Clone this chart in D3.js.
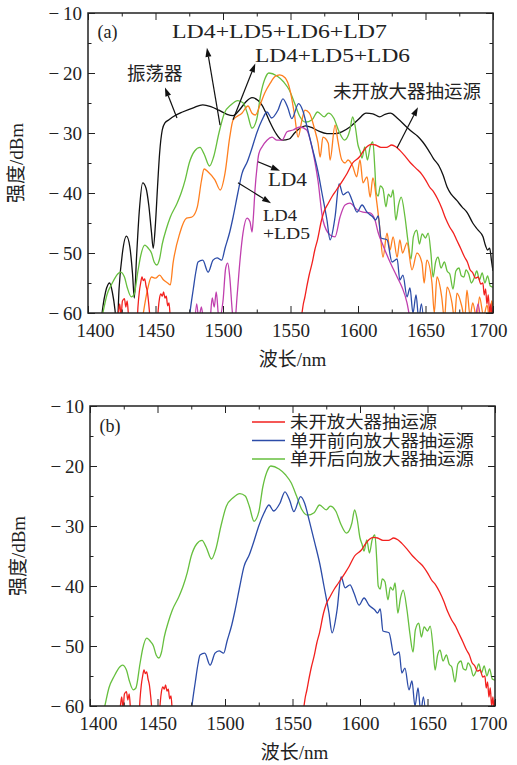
<!DOCTYPE html>
<html><head><meta charset="utf-8">
<script src="https://cdn.jsdelivr.net/npm/d3@7"></script>
<style>body{margin:0;background:#fff}svg{display:block}</style>
</head><body>
<svg id="c" width="517" height="765"></svg>
<script>
// ---------------- data ----------------
const xTicks = [1400,1450,1500,1550,1600,1650,1700];
const xMinor = [1425,1475,1525,1575,1625,1675];
const yTicks = [-60,-50,-40,-30,-20,-10];
const yMinor = [-55,-45,-35,-25,-15];

// 振荡器 (black)
const oscillator = [[1409,-63],[1411,-59],[1413,-56.5],[1416,-55],[1418,-56.5],[1420,-59.5],[1421.5,-63],[1423,-56],[1425.5,-50],[1428.5,-47.2],[1431,-49],[1433,-53.5],[1434.3,-57.5],[1436,-50.5],[1438,-43],[1440.5,-38.3],[1443,-39.2],[1445,-42],[1447,-46.5],[1448.3,-49.2],[1450,-45],[1451.5,-39],[1453,-33.5],[1455,-29.5],[1457,-28.3],[1460,-27.8],[1463,-27.3],[1470,-26.5],[1478,-25.8],[1485,-25.3],[1491,-25.6],[1497,-26.2],[1503,-26.9],[1507.5,-27.1],[1512,-26.2],[1517,-24.8],[1521.5,-24.1],[1526,-24.6],[1529,-25.4],[1531.5,-26.5],[1535,-28.3],[1539,-30],[1544,-31.2],[1549,-31],[1553,-30],[1557,-29.2],[1561,-28.8],[1566,-29.1],[1571,-29.7],[1577,-30.1],[1583,-30.1],[1588,-29.8],[1594,-29],[1600,-27.8],[1606,-26.7],[1611,-26.8],[1616,-27.3],[1620,-26.9],[1624,-26.7],[1629,-27.5],[1636,-29],[1640,-29.8],[1644,-30.5],[1648,-31.5],[1652,-32.8],[1656,-34.3],[1660,-35.5],[1663,-37],[1666,-39],[1669,-40.2],[1673,-41.2],[1677,-42.3],[1681,-43.3],[1685,-45],[1689,-46.2],[1692.6,-47.3],[1694.5,-48.8],[1696,-49.5],[1697.5,-49.2],[1699,-51.5],[1700,-53]];

// 未开放大器抽运源 (red)
const noPump = [[1421,-63],[1422.5,-60],[1423.5,-58.5],[1424.5,-60.5],[1425.5,-58],[1427,-57.6],[1428,-59],[1429,-58],[1430,-60.5],[1431,-63],[1436,-63],[1437,-59],[1438,-56.5],[1439,-55],[1440,-54],[1441,-54.6],[1442,-54.3],[1443,-55.5],[1444,-56.5],[1445,-58.5],[1446,-61],[1447,-63],[1451,-63],[1452,-59.5],[1453,-57.5],[1454,-56.8],[1455,-57.2],[1456,-56.5],[1457,-57.5],[1458,-57.2],[1459,-58.8],[1460,-58.3],[1461,-61],[1462,-63],[1556,-63],[1558.5,-60],[1559.5,-58.5],[1560.5,-57.5],[1562,-55.7],[1564,-53.5],[1566,-51.7],[1568,-49.5],[1570,-47.8],[1573,-44.5],[1575,-43],[1578,-41.7],[1581,-40.5],[1584,-39.5],[1589,-37.8],[1592,-36.7],[1596,-35],[1601,-34],[1604,-33],[1607,-32.2],[1610,-31.9],[1613,-32],[1617,-32.4],[1621,-32.4],[1625,-32],[1628,-32.3],[1631,-32.9],[1635,-33.9],[1639,-35],[1643,-35.9],[1647,-36.8],[1650,-37.8],[1653,-39],[1656,-39.8],[1659,-41],[1662,-42.5],[1665,-44.3],[1668,-45.7],[1671,-46.8],[1673,-47.8],[1676,-49.2],[1679,-50.7],[1681,-51.5],[1683,-52.8],[1685,-53.3],[1687,-54.2],[1689,-54],[1691,-55.2],[1692.5,-55],[1693.5,-57],[1694.5,-56],[1695.5,-58.5],[1696.5,-57],[1697.5,-60],[1698.5,-58.5],[1699.3,-61],[1700,-59]];

// LD4+LD5+LD6+LD7 / 单开后向 (green)
const ld4567 = [[1408,-63],[1411,-60],[1414,-57],[1418,-55],[1422,-53.5],[1424,-53.2],[1427,-54],[1429,-55.7],[1432,-57.3],[1434,-57],[1437,-53],[1439,-50.5],[1442,-48.7],[1445,-49.3],[1447,-50],[1449,-51.5],[1451,-52],[1453,-51],[1455,-48.5],[1458,-46],[1461,-44],[1466,-41.7],[1469,-40],[1472,-37.8],[1475,-35],[1479,-33],[1483,-32.4],[1486,-33.5],[1490,-35.5],[1493,-34],[1497,-30],[1501,-26.7],[1506,-25.3],[1511,-24.6],[1515,-25],[1518,-26.7],[1521.5,-29.2],[1525,-27.7],[1528,-23.5],[1531,-21],[1534,-20],[1540,-20.5],[1545,-21.5],[1549,-22.8],[1553,-25],[1557,-27.3],[1561,-28.2],[1566,-27.8],[1570,-26.5],[1575,-27.3],[1578,-26.7],[1582,-27.5],[1586,-29.8],[1590,-31.2],[1594,-29.5],[1596,-27.3],[1598,-29],[1600,-32],[1601.5,-33],[1603,-34.2],[1605,-32.3],[1607,-34.5],[1609,-32.3],[1611,-31.5],[1612.5,-36],[1613.5,-40],[1615,-40.5],[1616.5,-38.8],[1618.5,-39.3],[1620.7,-42.3],[1622.5,-40.2],[1624.4,-40.7],[1626,-39.5],[1628,-44.5],[1630,-42],[1632,-40.7],[1634.8,-44],[1637,-48],[1639.3,-51],[1641,-47.3],[1643.5,-46.2],[1645.5,-48.5],[1647.5,-46.8],[1650,-47.5],[1652,-46.7],[1654,-50],[1655.6,-54],[1657.5,-51.5],[1659.3,-50.7],[1661.5,-52.5],[1664,-51.5],[1666,-53],[1668,-53.5],[1670.4,-56],[1672.5,-53],[1674.8,-52.5],[1676.5,-53.8],[1678.5,-54],[1680,-52.8],[1682,-53.5],[1684,-55],[1686,-54.2],[1688,-53],[1690,-54.5],[1692,-53.3],[1694,-55],[1696,-53.8],[1698,-55.5],[1700,-55.7]];

// LD4+LD5+LD6 (orange)
const ld456 = [[1439,-63],[1441,-60],[1444,-56.2],[1447,-54],[1450,-54.2],[1453,-53.7],[1456,-54.5],[1459,-55],[1461,-55.3],[1463,-51.7],[1468,-46.7],[1473,-44.2],[1477,-44],[1481,-42.3],[1484,-38],[1486,-36],[1489,-36.5],[1494,-37.8],[1498,-39.5],[1501.5,-36.7],[1505,-30.7],[1507.5,-27.8],[1514,-26.7],[1518.5,-25.5],[1521.5,-26.7],[1524,-27],[1527.5,-25.3],[1531,-23.3],[1535,-21.7],[1538.5,-20.6],[1542,-20.3],[1546,-20.8],[1549.6,-22.8],[1553,-27],[1555.6,-30.7],[1558.5,-27.8],[1560.7,-26.2],[1564,-26.7],[1568,-29.5],[1570.4,-31.7],[1572,-34],[1574,-30.7],[1578,-31.7],[1579.3,-34.5],[1583,-28.7],[1585,-31.2],[1588,-34.5],[1590.4,-35],[1592.6,-34.5],[1596,-35.5],[1599,-37.3],[1601.5,-34.5],[1603.7,-38.3],[1606.7,-37.3],[1609,-40.7],[1611,-37.5],[1614,-41.7],[1616.3,-46.2],[1618.5,-50.7],[1621.5,-46.7],[1623.7,-49.5],[1626,-47.3],[1629,-50.7],[1631,-47.8],[1633,-50],[1636.3,-48.3],[1640,-52.8],[1643.7,-50],[1647.4,-51.7],[1649,-55],[1651,-51.2],[1654.8,-55],[1656.5,-60],[1658.5,-54],[1662,-57.3],[1664,-61],[1666,-55.7],[1669.6,-58.3],[1671.5,-61],[1673.3,-56.7],[1677,-59],[1679,-61],[1680.7,-56.2],[1683,-60.5],[1685,-58.3],[1688,-61],[1690,-57.3],[1693,-60.5],[1695.6,-58.7],[1697.5,-61],[1699,-58],[1700,-59]];

// LD4 / 单开前向 (blue)
const ld4 = [[1474,-63],[1475.5,-60],[1478,-56],[1480,-53],[1481.5,-51.5],[1485,-51.2],[1489,-53.2],[1492.6,-51.2],[1495.6,-50.8],[1499,-51.2],[1501.5,-49.2],[1505,-46.5],[1507.5,-44],[1511,-40],[1514,-36.8],[1518,-34.8],[1521.5,-32.5],[1525,-30],[1529,-27.8],[1532.6,-26.5],[1536,-27.5],[1540.7,-26.2],[1544.4,-24.3],[1548,-25.8],[1551,-27.6],[1556,-25.1],[1559,-26.2],[1562.5,-29.2],[1566.5,-32.8],[1570.4,-36.5],[1573.3,-40],[1577,-44.5],[1579.3,-47.8],[1583,-44],[1586,-38.5],[1589,-40.3],[1592.6,-39.8],[1595.6,-41.2],[1599.3,-43.2],[1603,-42],[1606.7,-43.2],[1611,-44],[1613,-44.5],[1615,-43.8],[1617,-47.5],[1621.5,-47.8],[1625.2,-51.5],[1629,-51],[1631,-54.5],[1633.3,-53.7],[1636.3,-57.3],[1638.5,-55.8],[1640.7,-60],[1643,-57],[1645,-61],[1647,-58.5],[1649,-63]];

// LD4+LD5 (magenta)
const ld45 = [[1479,-62],[1480.5,-58.5],[1482,-61],[1484,-59],[1486,-62],[1490,-62],[1492,-57.5],[1493.5,-59],[1495,-56.5],[1497,-61],[1500,-58],[1502,-52.5],[1503.5,-51.7],[1505,-54],[1507,-60],[1508.5,-62],[1510.5,-57],[1512.6,-51.2],[1514.8,-46.7],[1517.8,-44.2],[1520,-44.8],[1521.5,-46.5],[1522.5,-44],[1523.7,-39.5],[1525.2,-35.7],[1526.5,-33.5],[1529,-32.3],[1532.6,-31.2],[1536.3,-30.7],[1540,-31.2],[1543.7,-31.2],[1547.4,-29.8],[1551.9,-29.5],[1557,-29],[1562,-29.5],[1566,-32.5],[1570.4,-38],[1574,-44.5],[1579.3,-47],[1583,-47.3],[1586.7,-44],[1590.4,-42],[1594,-41.7],[1599.3,-42.8],[1603.7,-43.2],[1608.9,-43.3],[1612.6,-44.5],[1614.8,-46.5],[1618.5,-48.7],[1623.7,-51.5],[1629,-54],[1632.6,-55.7],[1636.3,-58.3],[1638.5,-61],[1640,-63],[1686,-62],[1689,-58.5],[1691,-62]];

const colors = {black:"#111", red:"#f2201e", green:"#66bf3e", orange:"#ff7f1f", blue:"#2c4ca8", magenta:"#c03fae"};

// ---------------- drawing ----------------
const svg = d3.select("#c");
const SERIF = "'Liberation Serif','Noto Sans CJK SC',serif";
const TXT = "#222";

function drawPanel(p){
  const x = d3.scaleLinear().domain([1400,1700]).range([p.x0,p.x1]);
  const y = d3.scaleLinear().domain([-60,-10]).range([p.y1,p.y0]);
  const clipId = "clip" + p.id;
  svg.append("clipPath").attr("id",clipId).append("rect")
    .attr("x",p.x0).attr("y",p.y0).attr("width",p.x1-p.x0).attr("height",p.y1-p.y0);
  const line = d3.line().x(d=>x(d[0])).y(d=>y(d[1])).curve(d3.curveMonotoneX);
  const gl = svg.append("g").attr("clip-path",`url(#${clipId})`);
  p.series.forEach(s=>{
    gl.append("path").attr("d",line(s.data)).attr("fill","none")
      .attr("stroke",s.color).attr("stroke-width",1.3).attr("stroke-linejoin","round");
  });

  const fmtY = d => "\u2212\u2009" + Math.abs(d);
  const fmtX = d3.format("d");
  const styleAxis = g => { g.select(".domain").remove();
    g.attr("font-family",SERIF).attr("font-size",19);
    g.selectAll(".tick line").attr("stroke","#222").attr("stroke-width",1);
    g.selectAll(".tick text").attr("fill",TXT); };

  const bottom = svg.append("g").attr("transform",`translate(0,${p.y1})`)
    .call(d3.axisBottom(x).tickValues(xTicks).tickFormat(fmtX).tickSizeInner(-7).tickSizeOuter(0).tickPadding(10.5)).call(styleAxis);
  bottom.selectAll(".tick text").filter(d=>d===1400).attr("dx",p.dxL);
  bottom.selectAll(".tick text").filter(d=>d===1700).attr("dx",p.dxR);
  svg.append("g").attr("transform",`translate(0,${p.y1})`)
    .call(d3.axisBottom(x).tickValues(xMinor).tickSizeInner(-3.5).tickSizeOuter(0).tickFormat("")).call(styleAxis);
  svg.append("g").attr("transform",`translate(0,${p.y0})`)
    .call(d3.axisTop(x).tickValues(xTicks).tickSizeInner(-7).tickSizeOuter(0).tickFormat("")).call(styleAxis);
  svg.append("g").attr("transform",`translate(0,${p.y0})`)
    .call(d3.axisTop(x).tickValues(xMinor).tickSizeInner(-3.5).tickSizeOuter(0).tickFormat("")).call(styleAxis);
  svg.append("g").attr("transform",`translate(${p.x0},0)`)
    .call(d3.axisLeft(y).tickValues(yTicks).tickSizeInner(-7).tickSizeOuter(0).tickPadding(6).tickFormat(fmtY)).call(styleAxis);
  svg.append("g").attr("transform",`translate(${p.x0},0)`)
    .call(d3.axisLeft(y).tickValues(yMinor).tickSizeInner(-3.5).tickSizeOuter(0).tickFormat("")).call(styleAxis);
  svg.append("g").attr("transform",`translate(${p.x1},0)`)
    .call(d3.axisRight(y).tickValues(yTicks).tickSizeInner(-7).tickSizeOuter(0).tickFormat("")).call(styleAxis);
  svg.append("g").attr("transform",`translate(${p.x1},0)`)
    .call(d3.axisRight(y).tickValues(yMinor).tickSizeInner(-3.5).tickSizeOuter(0).tickFormat("")).call(styleAxis);

  svg.append("rect").attr("x",p.x0).attr("y",p.y0).attr("width",p.x1-p.x0).attr("height",p.y1-p.y0)
    .attr("fill","none").attr("stroke","#222").attr("stroke-width",1.5);

  // axis titles
  svg.append("text").attr("transform",`translate(${p.x0-65},${(p.y0+p.y1)/2}) rotate(-90)`)
    .attr("text-anchor","middle").attr("font-family",SERIF).attr("font-size",19).attr("fill",TXT)
    .text("强度/dBm");
  svg.append("text").attr("x",(p.x0+p.x1)/2+2).attr("y",p.y1+53)
    .attr("text-anchor","middle").attr("font-family",SERIF).attr("font-size",19).attr("fill",TXT)
    .text("波长/nm");

  // panel letter
  svg.append("text").attr("x",x(p.letterAt[0])).attr("y",y(p.letterAt[1]))
    .attr("font-family",SERIF).attr("font-size",18).attr("fill",TXT).text(p.letter);
  return {x,y};
}

function arrow(x,y,a){
  const x1=x(a.from[0]), y1=y(a.from[1]), x2=x(a.to[0]), y2=y(a.to[1]);
  const ang=Math.atan2(y2-y1,x2-x1), L=9, W=3;
  const bx=x2-L*Math.cos(ang), by=y2-L*Math.sin(ang);
  svg.append("line").attr("x1",x1).attr("y1",y1).attr("x2",bx).attr("y2",by)
    .attr("stroke","#111").attr("stroke-width",1.2);
  const pts=[[x2,y2],[bx+W*Math.sin(ang),by-W*Math.cos(ang)],[bx-W*Math.sin(ang),by+W*Math.cos(ang)]];
  svg.append("polygon").attr("points",pts.map(q=>q.join(",")).join(" ")).attr("fill","#111");
}

// Panel (a)
const A = drawPanel({id:"a",x0:88,x1:493,y0:13,y1:313,dxL:7,dxR:-5,letter:"(a)",letterAt:[1407,-14.2],
  series:[
    {data:oscillator,color:colors.black},
    {data:ld4567,color:colors.green},
    {data:ld456,color:colors.orange},
    {data:ld45,color:colors.magenta},
    {data:ld4,color:colors.blue},
    {data:noPump,color:colors.red}
  ]});

const annotations = [
  {from:[1465.9,-27.5],to:[1457,-22.4]},
  {from:[1497.8,-28.7],to:[1488.1,-15.8]},
  {from:[1507.4,-27.8],to:[1523.9,-18.4]},
  {from:[1628.9,-32.5],to:[1644.4,-25.7]},
  {from:[1525.9,-34.8],to:[1542.2,-36.3]},
  {from:[1511.1,-38.3],to:[1535.6,-41.7]}
];
annotations.forEach(a=>arrow(A.x,A.y,a));

const labels = [
  {t:"LD4+LD5+LD6+LD7", at:[1462.2,-14.2], len:215, fs:19},
  {t:"LD4+LD5+LD6", at:[1523.7,-18.2], len:155, fs:19},
  {t:"LD4", at:[1533.3,-38.8], len:39, fs:18},
  {t:"LD4", at:[1529.6,-44.7], len:34, fs:16.5},
  {t:"+LD5", at:[1529.6,-47.7], len:47, fs:16.5}
];
labels.forEach(l=>{
  svg.append("text").attr("x",A.x(l.at[0])).attr("y",A.y(l.at[1]))
    .attr("font-family",SERIF).attr("font-size",l.fs).attr("fill",TXT)
    .attr("textLength",l.len).attr("lengthAdjust","spacingAndGlyphs").text(l.t);
});
const cjkLabels = [
  {t:"振荡器", at:[1428.9,-19.8]},
  {t:"未开放大器抽运源", at:[1581.5,-22.8]}
];
cjkLabels.forEach(l=>{
  svg.append("text").attr("x",A.x(l.at[0])).attr("y",A.y(l.at[1]))
    .attr("dominant-baseline","central")
    .attr("font-family","'Noto Sans CJK SC',sans-serif").attr("font-size",18.5).attr("fill",TXT).text(l.t);
});

// Panel (b)
const bSeries = [
  {data:noPump,color:colors.red,name:"未开放大器抽运源"},
  {data:ld4,color:colors.blue,name:"单开前向放大器抽运源"},
  {data:ld4567,color:colors.green,name:"单开后向放大器抽运源"}
];
drawPanel({id:"b",x0:90,x1:495,y0:406,y1:706,dxL:8,dxR:-7,letter:"(b)",letterAt:[1407,-14.3],
  series:[bSeries[2],bSeries[1],bSeries[0]]});

const leg = svg.append("g");
bSeries.forEach((s,i)=>{
  const yy = 422 + i*18.5;
  leg.append("line").attr("x1",252).attr("x2",285).attr("y1",yy).attr("y2",yy)
    .attr("stroke",s.color).attr("stroke-width",1.5);
  leg.append("text").attr("x",290).attr("y",yy + 6).attr("font-family",SERIF).attr("font-size",16.5).attr("fill",TXT)
    .attr("textLength",s.name.length*18.4).attr("lengthAdjust","spacingAndGlyphs").text(s.name);
});
</script>
</body></html>
